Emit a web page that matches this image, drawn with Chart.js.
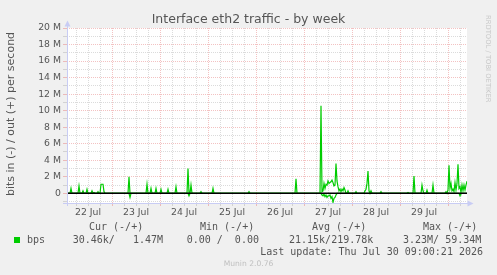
<!DOCTYPE html>
<html>
<head>
<meta charset="utf-8">
<script src="https://cdn.jsdelivr.net/npm/chart.js@4.4.1/dist/chart.umd.min.js"></script>
<style>
html,body{margin:0;padding:0;background:#f0f0f0;overflow:hidden;}
canvas{display:block;}
</style>
</head>
<body>
<canvas id="c" width="497" height="275"></canvas>
<script>
// ---- text ----
const titleText = 'Interface eth2 traffic - by week';
const yAxisTitle = 'bits in (-) / out (+) per second';
const watermark = 'RRDTOOL / TOBI OETIKER';
const footerText = 'Munin 2.0.76';
const lastUpdate = 'Last update: Thu Jul 30 09:00:21 2026';
const seriesName = 'bps';
const legendHeaders = ['Cur (-/+)', 'Min (-/+)', 'Avg (-/+)', 'Max (-/+)'];
const legendValues = [['30.46k/', '   1.47M'], ['0.00 /', '  0.00'], ['21.15k/', '219.78k'], ['3.23M/', ' 59.34M']];

// ---- axes (hours since 22 Jul 00:00; values in M bits/s) ----
const xMin = 1.5, xMax = 201.5;
const dayLabels = ['22 Jul', '23 Jul', '24 Jul', '25 Jul', '26 Jul', '27 Jul', '28 Jul', '29 Jul'];
const dayLabelHours = [12, 36, 60, 84, 108, 132, 156, 180];
const yMin = -1.17, yMax = 20;
const yGridValues = [-1, 0, 1, 2, 3, 4, 5, 6, 7, 8, 9, 10, 11, 12, 13, 14, 15, 16, 17, 18, 19, 20];

// ---- data: out (+) ----
const outHours = [1.5, 3, 3.5, 4, 7, 7.5, 8, 9, 9.5, 10, 11, 11.5, 12, 13.5, 14, 14.5, 15, 15.5,
  16.5, 17, 17.5, 18, 18.5, 19.5, 20, 20.5, 32, 32.5, 33, 41, 41.5, 42, 43, 43.5, 44, 45.5, 46, 46.5,
  48, 48.5, 49, 51.5, 52, 52.5, 55.5, 56, 56.5, 61.5, 62, 62.5, 63, 63.5, 64, 68, 68.5, 69,
  74, 74.5, 75, 92, 92.5, 93, 115.5, 116, 116.5,
  128, 128.5, 129, 129.5, 130, 130.5, 131, 131.5, 132, 132.5, 133, 133.5, 134, 134.5, 135, 135.5,
  136, 136.5, 137, 137.5, 138, 138.5, 139, 139.5, 140, 140.5, 141, 141.5, 142, 142.5,
  145.5, 146, 146.5, 150, 150.5, 151, 151.5, 152, 152.5, 153, 153.5, 154, 158, 158.5, 159,
  171.5, 172, 172.5, 174.5, 175, 175.5, 178.5, 179, 179.5, 180, 181, 181.5, 182, 184, 184.5, 185,
  190.5, 191, 191.5, 192, 192.5, 193, 193.5, 194, 194.5, 195, 195.5, 196, 196.5, 197, 197.5,
  198, 198.5, 199, 199.5, 200, 200.5, 201, 201.5];
const outValues = [0, 0, 0.6, 0, 0, 0.9, 0, 0, 0.3, 0, 0, 0.5, 0, 0, 0.3, 0, 0.1, 0,
  0, 0.2, 0, 0, 1.1, 1.1, 0.2, 0, 0, 2.0, 0, 0, 1.1, 0, 0, 0.6, 0, 0, 0.6, 0,
  0, 0.5, 0, 0, 0.5, 0, 0, 0.8, 0, 0, 3.0, 0, 0, 1.0, 0, 0, 0.2, 0,
  0, 0.6, 0, 0, 0.2, 0, 0, 1.75, 0,
  0, 10.6, 0.2, 0.3, 1.2, 0.6, 1.1, 1.0, 1.5, 1.2, 1.3, 1.4, 1.6, 1.3, 0.9, 1.0,
  3.6, 1.5, 0.8, 0.3, 0.5, 0.2, 0.5, 0.3, 0.7, 0.4, 0, 0, 0.3, 0,
  0, 0.2, 0, 0, 0.3, 0.5, 1.2, 2.7, 0.3, 0, 0.3, 0, 0, 0.2, 0,
  0, 0.1, 0, 0, 2.1, 0, 0, 1.0, 0.3, 0, 0, 0.4, 0, 0, 1.0, 0,
  0, 0.2, 0, 0.4, 3.4, 0.6, 1.2, 0.3, 0.5, 0.2, 1.3, 0.4, 1.2, 3.5, 0.6,
  0.8, 0.1, 1.0, 0.3, 1.0, 0.4, 1.0, 1.47];

// ---- data: in (-) ----
const inHours = [1.5, 32.5, 33, 33.5, 62, 62.5, 63, 128.5, 129, 129.5, 130, 130.5, 131, 131.5, 132,
  132.5, 133, 133.5, 134, 134.5, 135, 135.5, 136, 136.5, 197.5, 198, 198.5, 201.5];
const inValues = [0, 0, -0.5, 0, 0, -0.3, 0, 0, -0.2, -0.3, -0.1, -0.4, -0.2, -0.5, -0.3,
  -0.3, -0.2, -0.6, -0.4, -1.1, -0.6, -0.5, -0.2, 0, 0, -0.3, 0, 0];

// ---- style ----
const GREEN = '#00cc00';
const TEXT = '#555555';
const MAJOR = 'rgba(228,120,120,0.45)';
const MINOR = 'rgba(160,160,160,0.38)';
const AXIS = '#c8ccf4';
const xGridHours = [];
for (let h = 6; h < xMax; h += 6) xGridHours.push(h);

const toPts = (xs, ys) => xs.map((x, i) => ({ x: x, y: ys[i] }));

const decor = {
  id: 'decor',
  beforeDraw(chart) {
    const { ctx, chartArea: a } = chart;
    ctx.save();
    ctx.fillStyle = '#f0f0f0';
    ctx.fillRect(0, 0, chart.width, chart.height);
    ctx.fillStyle = '#ffffff';
    ctx.fillRect(a.left, a.top, a.right - a.left, a.bottom - a.top);
    ctx.restore();
  },
  afterDatasetsDraw(chart) {
    const { ctx, chartArea: a, scales } = chart;
    const y0 = scales.y.getPixelForValue(0);
    ctx.save();
    ctx.strokeStyle = '#000000';
    ctx.lineWidth = 1.5;
    ctx.beginPath();
    ctx.moveTo(a.left, y0);
    ctx.lineTo(a.right, y0);
    ctx.stroke();
    // axes with arrows
    ctx.strokeStyle = AXIS;
    ctx.fillStyle = AXIS;
    ctx.lineWidth = 1;
    const lx = a.left + 0.5, by = a.bottom + 0.5;
    ctx.beginPath();
    ctx.moveTo(lx, a.bottom + 3);
    ctx.lineTo(lx, a.top - 3);
    ctx.moveTo(a.left - 4, by);
    ctx.lineTo(a.right + 2, by);
    ctx.stroke();
    ctx.beginPath();
    ctx.moveTo(lx, a.top - 7.5);
    ctx.lineTo(lx - 3, a.top - 1.5);
    ctx.lineTo(lx + 3, a.top - 1.5);
    ctx.closePath();
    ctx.fill();
    ctx.beginPath();
    ctx.moveTo(a.right + 6.5, by);
    ctx.lineTo(a.right + 0.5, by - 3);
    ctx.lineTo(a.right + 0.5, by + 3);
    ctx.closePath();
    ctx.fill();
    ctx.restore();
  },
  afterDraw(chart) {
    const ctx = chart.ctx;
    ctx.save();
    ctx.fillStyle = TEXT;
    ctx.textBaseline = 'middle';
    ctx.textAlign = 'center';
    ctx.font = '12.5px "DejaVu Sans"';
    ctx.fillText(titleText, 248.5, 19.5);
    ctx.save();
    ctx.translate(11, 114);
    ctx.rotate(-Math.PI / 2);
    ctx.font = '11px "DejaVu Sans"';
    ctx.fillText(yAxisTitle, 0, 0);
    ctx.restore();
    ctx.save();
    ctx.translate(488, 15);
    ctx.rotate(Math.PI / 2);
    ctx.textAlign = 'left';
    ctx.fillStyle = '#c8c8c8';
    ctx.font = '6.8px "DejaVu Sans"';
    ctx.fillText(watermark, 0, 0);
    ctx.restore();
    ctx.fillStyle = '#c0c0c0';
    ctx.font = '7.6px "DejaVu Sans"';
    ctx.fillText(footerText, 248.5, 264);
    // legend (monospace)
    ctx.fillStyle = TEXT;
    ctx.font = '10px "DejaVu Sans Mono"';
    ctx.textAlign = 'left';
    const headX = [89, 200, 312, 423];
    legendHeaders.forEach((t, i) => ctx.fillText(t, headX[i], 227.5));
    ctx.fillStyle = GREEN;
    ctx.fillRect(14, 237, 6, 6);
    ctx.fillStyle = TEXT;
    ctx.fillText(seriesName, 27, 240.5);
    const valX = [72.7, 186.7, 289, 403];
    legendValues.forEach((p, i) => ctx.fillText(p[0] + p[1], valX[i], 240.5));
    ctx.textAlign = 'right';
    ctx.fillText(lastUpdate, 483, 252);
    ctx.restore();
  }
};

new Chart(document.getElementById('c'), {
  type: 'line',
  data: {
    datasets: [
      { label: 'out', data: toPts(outHours, outValues), borderColor: GREEN, borderWidth: 1.2, pointRadius: 0, tension: 0, fill: false },
      { label: 'in', data: toPts(inHours, inValues), borderColor: GREEN, borderWidth: 1.2, pointRadius: 0, tension: 0, fill: false }
    ]
  },
  options: {
    responsive: false,
    animation: false,
    devicePixelRatio: 1,
    layout: { padding: { top: 28, right: 30, left: 0, bottom: 0 } },
    plugins: { legend: { display: false }, title: { display: false }, tooltip: { enabled: false } },
    scales: {
      x: {
        type: 'linear', min: xMin, max: xMax,
        afterFit(s) { s.height = 72; },
        afterBuildTicks(s) { s.ticks = xGridHours.map(v => ({ value: v })); },
        border: { display: false, dash: [1, 1] },
        grid: {
          color: c => (c.tick && c.tick.value % 24 === 0) ? MAJOR : MINOR,
          tickColor: c => (c.tick && c.tick.value % 24 === 0) ? MAJOR : MINOR,
          tickLength: 3, lineWidth: 1
        },
        ticks: {
          autoSkip: false, maxRotation: 0, minRotation: 0, padding: 1,
          color: TEXT, font: { family: 'DejaVu Sans', size: 9.3 },
          callback: v => { const i = dayLabelHours.indexOf(v); return i >= 0 ? dayLabels[i] : ''; }
        }
      },
      y: {
        type: 'linear', min: yMin, max: yMax,
        afterFit(s) { s.width = 67; },
        afterBuildTicks(s) { s.ticks = yGridValues.map(v => ({ value: v })); },
        border: { display: false, dash: [1, 1] },
        grid: {
          color: c => (c.tick && c.tick.value % 2 === 0) ? MAJOR : MINOR,
          tickColor: c => (c.tick && c.tick.value % 2 === 0) ? MAJOR : MINOR,
          tickLength: 4, lineWidth: 1
        },
        ticks: {
          autoSkip: false, padding: 2,
          color: TEXT, font: { family: 'DejaVu Sans', size: 9.3 },
          callback: v => (v >= 0 && v % 2 === 0) ? (v === 0 ? '0' : v + ' M') : ''
        }
      }
    }
  },
  plugins: [decor]
});
</script>
</body>
</html>
